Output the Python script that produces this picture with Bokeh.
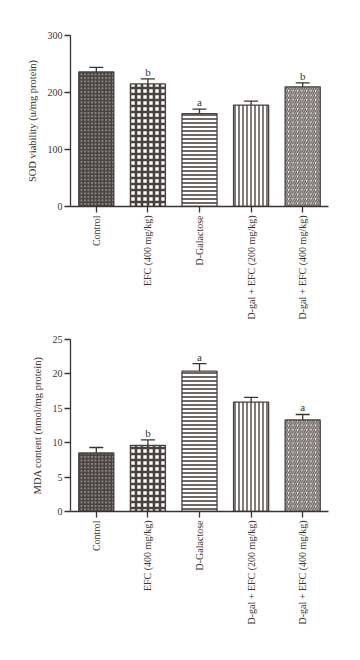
import math
from bokeh.plotting import figure
from bokeh.models import ColumnDataSource, Whisker, TeeHead, FixedTicker
from bokeh.layouts import column
from bokeh.embed import file_html
from bokeh.resources import INLINE
from bokeh.core.properties import value

groups = ["Control", "EFC (400 mg/kg)", "D-Galactose",
          "D-gal + EFC (200 mg/kg)", "D-gal + EFC (400 mg/kg)"]

sod_mean = [236, 215, 163, 178, 210]
sod_err = [8, 9, 8, 7, 7]
sod_letters = ["", "b", "a", "", "b"]

mda_mean = [8.5, 9.6, 20.4, 15.9, 13.3]
mda_err = [0.8, 0.8, 1.1, 0.7, 0.8]
mda_letters = ["", "b", "a", "", "a"]

sod_ticks = [0, 100, 200, 300]
mda_ticks = [0, 5, 10, 15, 20, 25]

INK = "#3a3331"
EDGE = "#4a4240"
FONT = "Liberation Serif"

hatch_patterns = ["+", "+", "-", "|", "/"]
hatch_scales = [3.5, 6, 4, 4, 4.5]
hatch_weights = [1.6, 2.6, 1.6, 1.4, 1.6]
fill_colors = ["#8c8482", "#ffffff", "#ffffff", "#ffffff", "#ffffff"]
hatch_colors = [EDGE, EDGE, EDGE, EDGE, "#6e6664"]


def make_plot(mean, err, letters, ticks, ymax, ylabel, height, top, bottom):
    upper = [m + e for m, e in zip(mean, err)]
    src = ColumnDataSource(dict(
        x=groups, top=mean, upper=upper, letters=letters,
        hp=hatch_patterns, hs=hatch_scales, hw=hatch_weights,
        fc=fill_colors, hc=hatch_colors))
    p = figure(x_range=groups, y_range=(0, ymax), width=344, height=height,
               output_backend="svg", toolbar_location=None,
               min_border_left=70, min_border_right=16,
               min_border_top=top, min_border_bottom=bottom)
    p.x_range.range_padding = 0
    p.vbar(x="x", top="top", width=0.68, source=src,
           fill_color="fc", line_color=EDGE, line_width=1.3,
           hatch_pattern="hp", hatch_scale="hs", hatch_weight="hw",
           hatch_color="hc")
    w = Whisker(source=src, base="x", upper="upper", lower="top",
                lower_head=None,
                upper_head=TeeHead(size=14, line_color=INK, line_width=1.3),
                line_color=INK, line_width=1.3)
    p.add_layout(w)
    p.text(x="x", y="upper", text="letters", source=src,
           text_align="center", text_baseline="bottom", y_offset=-1,
           text_font=value(FONT), text_font_size="11px", text_color=INK)
    p.xgrid.visible = False
    p.ygrid.visible = False
    p.outline_line_color = None
    p.background_fill_color = None
    p.border_fill_color = "white"

    p.yaxis.ticker = FixedTicker(ticks=ticks)
    p.yaxis.axis_label = ylabel
    for ax in (p.xaxis[0], p.yaxis[0]):
        ax.axis_line_color = INK
        ax.axis_line_width = 1.3
        ax.major_tick_line_color = INK
        ax.major_tick_line_width = 1.3
        ax.major_tick_out = 6
        ax.major_tick_in = 0
        ax.minor_tick_line_color = None
        ax.major_label_text_font = FONT
        ax.major_label_text_font_size = "10px"
        ax.major_label_text_color = INK
        ax.axis_label_text_font = FONT
        ax.axis_label_text_font_size = "10.5px"
        ax.axis_label_text_font_style = "normal"
        ax.axis_label_text_color = INK
    p.yaxis.major_label_standoff = 2
    p.yaxis.axis_label_standoff = 7
    p.xaxis.major_label_orientation = math.pi / 2
    p.xaxis.major_label_standoff = 3
    return p


p1 = make_plot(sod_mean, sod_err, sod_letters, sod_ticks, 300,
               "SOD viability (u/mg protein)", 330, 35, 124)
p2 = make_plot(mda_mean, mda_err, mda_letters, mda_ticks, 25,
               "MDA content (nmol/mg protein)", 322, 9, 141)

layout = column(p1, p2, spacing=0)
open("out.html", "w").write(file_html(layout, INLINE))
